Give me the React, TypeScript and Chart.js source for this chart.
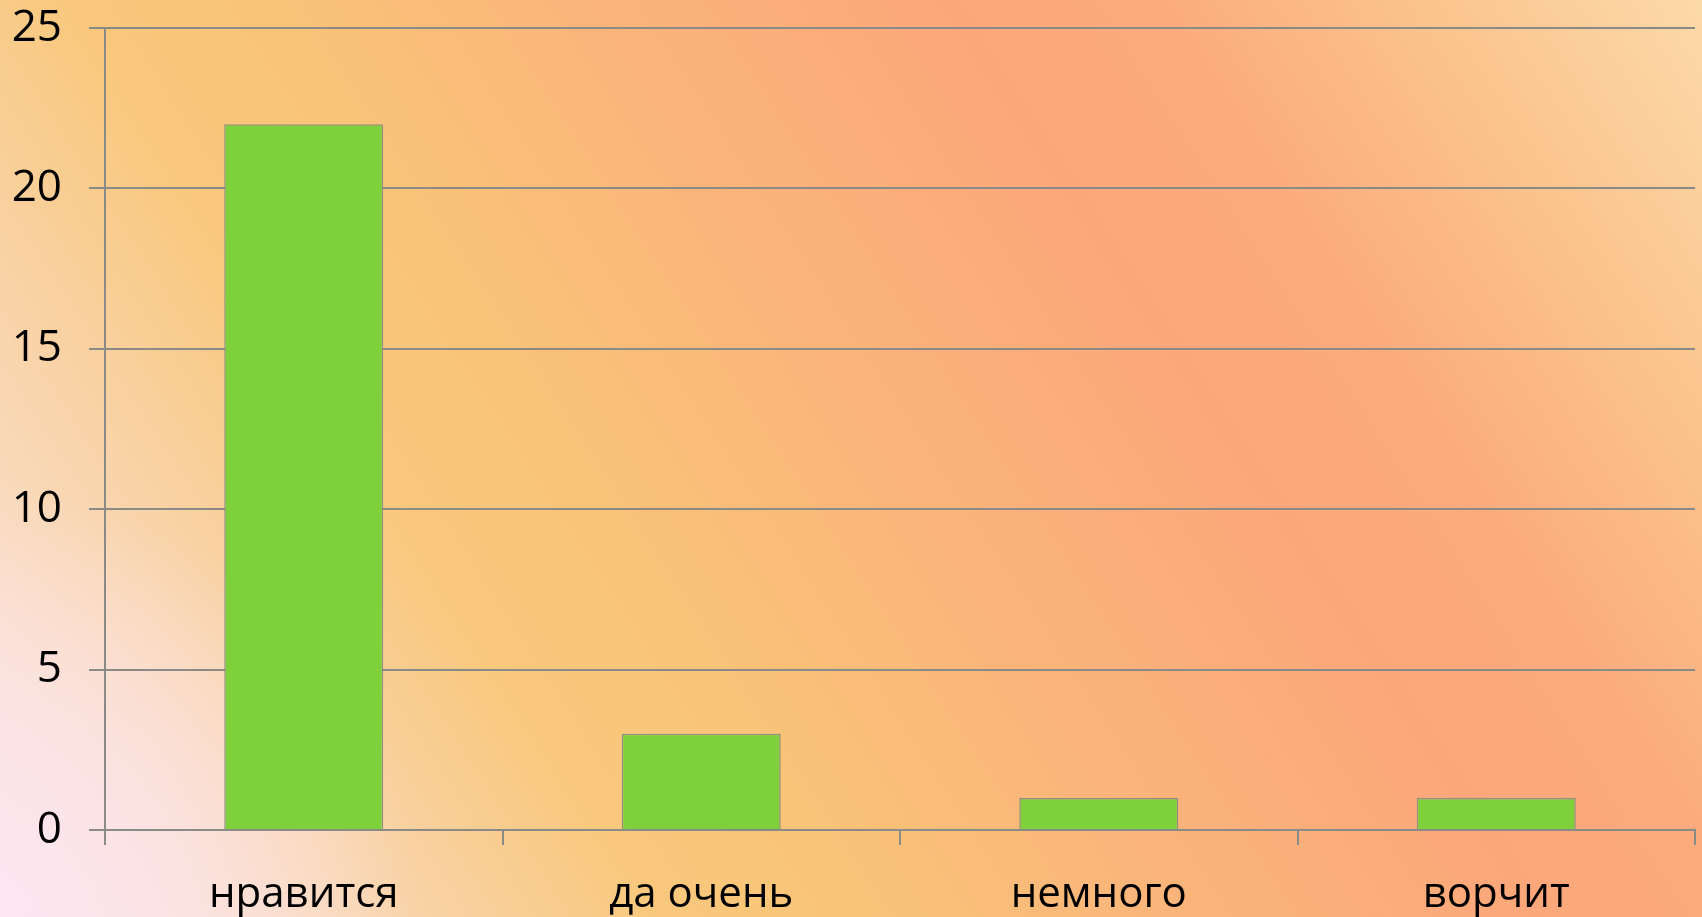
import React, { useEffect, useRef } from "react";
import { Chart, registerables } from "chart.js";

Chart.register(...registerables);

const categories = ["нравится", "да очень", "немного", "ворчит"];
const values = [22, 3, 1, 1];
const yMin = 0;
const yMax = 25;
const yStep = 5;

const FONT = "'Open Sans', 'Noto Sans', sans-serif";
const GRID = "#8a8a86";

export default function App() {
  const ref = useRef<HTMLCanvasElement>(null);

  useEffect(() => {
    const chart = new Chart(ref.current as HTMLCanvasElement, {
      type: "bar",
      data: {
        labels: categories,
        datasets: [
          {
            data: values,
            backgroundColor: "#7ed13b",
            borderColor: "#8e9080",
            borderWidth: 1.5,
            barPercentage: 0.4,
            categoryPercentage: 1,
          },
        ],
      },
      options: {
        responsive: false,
        animation: false,
        devicePixelRatio: 1,
        layout: { padding: { left: 0, right: 7, top: 28, bottom: 0 } },
        plugins: { legend: { display: false }, tooltip: { enabled: false } },
        scales: {
          x: {
            offset: true,
            grid: {
              offset: true,
              drawOnChartArea: false,
              drawTicks: true,
              tickLength: 15,
              color: GRID,
              lineWidth: 2,
            },
            border: { color: GRID, width: 2 },
            ticks: {
              font: { family: FONT, size: 42 },
              color: "#000",
              padding: 25,
              maxRotation: 0,
              autoSkip: false,
            },
            afterFit: (s: any) => {
              s.height = 87;
              s.paddingLeft = 0;
              s.paddingRight = 0;
            },
          },
          y: {
            min: yMin,
            max: yMax,
            ticks: {
              stepSize: yStep,
              font: { family: FONT, size: 44 },
              color: "#000",
              padding: 27,
            },
            grid: { color: GRID, lineWidth: 2, tickLength: 16 },
            border: { color: GRID, width: 2 },
            afterFit: (s: any) => {
              s.width = 105;
              s.paddingTop = 0;
              s.paddingBottom = 0;
            },
          },
        },
      },
    } as any);
    return () => chart.destroy();
  }, []);

  return (
    <div
      style={{
        position: "fixed",
        left: 0,
        top: 0,
        width: 1702,
        height: 917,
        background:
          "radial-gradient(ellipse 420px 420px at 0px 917px, rgba(252,230,242,0.9) 0%, rgba(252,230,240,0.6) 45%, rgba(252,230,236,0) 100%), " +
          "linear-gradient(57deg, #fce6e6 0%, #fadcc4 10%, #f9d2a4 19%, #f9c87c 29%, #f9c478 37%, #fab67a 50%, #fba77a 67%, #fbab7e 76%, #fbc48e 88%, #fcdaa8 100%)",
      }}
    >
      <canvas ref={ref} width={1702} height={917} style={{ display: "block" }} />
    </div>
  );
}
